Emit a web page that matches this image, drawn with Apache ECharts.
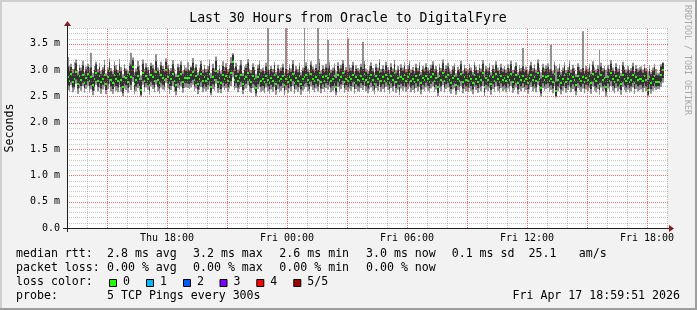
<!DOCTYPE html>
<html><head><meta charset="utf-8">
<script src="https://cdn.jsdelivr.net/npm/echarts@6/dist/echarts.min.js"></script>
<style>html,body{margin:0;padding:0;background:#f2f2f2}#c{width:697px;height:310px}</style>
</head><body><div id="c"></div>
<script>
// ---------------- data ----------------
const chartTitle = 'Last 30 Hours from Oracle to DigitalFyre';
const yAxisName = 'Seconds';
const spanHours = 30;            // Thu 13:00 .. Fri 19:00
const stepHours = 5 / 60;        // one sample every 300 s
const xTickHours = [5, 11, 17, 23, 29];
const xTickLabels = ['Thu 18:00', 'Fri 00:00', 'Fri 06:00', 'Fri 12:00', 'Fri 18:00'];
const xMajorGridHours = [2, 5, 8, 11, 14, 17, 20, 23, 26, 29];
const yMajorValues = [0.5, 1.0, 1.5, 2.0, 2.5, 3.0, 3.5];
const yMax = 3.8;
const lossLabels = ['0', '1', '2', '3', '4', '5/5'];
const lossColors = ['#26ff00', '#00b8ff', '#0059ff', '#7e00ff', '#ff0000', '#a10000'];

// RTT of the 5 pings per step, in ms (sorted: min, 2nd, median, 4th, max)
const pingMed = [
2.86,2.80,2.92,2.78,2.84,2.96,2.74,2.88,2.82,2.90,2.76,2.85,
2.93,2.79,2.87,2.71,2.83,2.95,2.80,2.89,2.77,2.84,2.91,2.73,
2.86,2.98,2.81,2.76,2.90,2.84,2.79,2.93,2.82,2.68,2.87,2.85,
2.78,2.92,2.86,3.05,2.74,2.81,2.89,2.83,2.62,2.95,2.80,2.88,
2.84,2.72,2.91,2.86,2.79,2.97,2.82,2.76,2.90,2.85,2.81,3.01,
2.87,2.75,2.83,2.93,2.80,2.71,2.89,2.84,2.92,2.78,2.85,2.85,
2.85,2.85,2.90,2.96,2.81,2.88,2.74,2.83,2.92,2.79,2.86,2.80,
2.84,2.93,2.67,2.87,2.81,2.99,2.78,2.85,2.76,2.90,2.83,2.88,
2.80,2.86,2.94,3.15,2.82,2.89,2.79,2.85,2.91,2.73,2.84,2.87,
2.95,2.81,2.78,2.88,2.84,2.66,2.86,2.92,2.80,2.83,2.77,2.89,
2.82,2.76,2.85,2.80,2.91,2.74,2.86,2.79,2.83,2.88,2.72,2.84,
2.78,2.87,2.81,2.93,2.76,2.85,2.80,2.89,2.74,2.83,2.86,2.90,
2.81,2.75,2.92,2.84,2.79,2.87,2.82,2.95,2.77,2.86,2.80,2.88,
2.85,2.92,2.79,2.83,2.88,2.68,2.90,2.81,2.86,2.94,2.78,2.84,
2.80,2.87,2.83,2.91,2.76,2.86,2.82,2.79,2.89,2.84,2.93,2.81,
2.77,2.85,2.90,2.82,2.74,2.88,2.83,2.96,2.80,2.86,2.79,2.91,
2.84,2.76,2.89,2.81,2.94,2.78,2.85,2.69,2.87,2.83,2.90,2.80,
2.86,2.93,2.79,2.84,2.77,2.88,2.82,2.91,2.75,2.85,2.81,2.89,
2.83,2.78,2.87,2.92,2.80,2.85,2.67,2.88,2.82,2.95,2.79,2.86,
2.90,2.81,2.76,2.85,2.89,2.72,2.84,2.80,2.93,2.77,2.86,2.82,
2.79,2.88,2.83,2.75,2.91,2.84,2.78,2.87,2.81,2.94,2.68,2.85,
2.82,2.89,2.74,2.86,2.80,2.92,2.83,2.77,2.88,2.81,2.85,2.79,
2.87,2.81,2.93,2.78,2.84,2.90,2.75,2.86,2.82,2.89,2.80,2.84,
2.76,2.85,2.91,2.82,2.87,2.79,2.95,2.83,2.66,2.88,2.81,2.86,
2.89,2.80,2.84,2.77,2.92,2.60,2.81,2.88,2.75,2.83,2.90,2.78,
2.84,2.93,2.79,2.86,2.82,2.71,2.89,2.84,2.80,2.87,2.77,2.85,
2.81,2.88,2.76,2.92,2.83,2.79,2.86,2.74,2.90,2.82,2.85,2.68,
2.87,2.80,2.94,2.83,2.77,2.89,2.81,2.86,2.73,2.91,2.84,2.79,
2.85,2.78,2.82,2.90,2.76,2.86,2.81,2.84,2.84,2.79,2.88,2.82,
2.62,2.86,2.76,2.83,2.89,2.78,2.78,2.78,2.90,3.00];
const pingLo = [
2.71,2.69,2.77,2.67,2.68,2.82,2.65,2.74,2.70,2.76,2.66,2.72,
2.79,2.67,2.71,2.61,2.69,2.80,2.68,2.75,2.65,2.72,2.77,2.62,
2.73,2.83,2.69,2.64,2.76,2.70,2.67,2.79,2.68,2.57,2.74,2.71,
2.66,2.77,2.72,2.87,2.63,2.69,2.74,2.70,2.53,2.80,2.68,2.75,
2.71,2.61,2.77,2.72,2.67,2.81,2.68,2.65,2.76,2.72,2.69,2.85,
2.74,2.64,2.70,2.79,2.68,2.60,2.75,2.71,2.78,2.66,2.76,2.75,
2.74,2.73,2.76,2.81,2.69,2.74,2.63,2.70,2.77,2.67,2.73,2.68,
2.72,2.79,2.57,2.73,2.69,2.83,2.66,2.72,2.64,2.76,2.70,2.74,
2.68,2.73,2.79,2.97,2.70,2.75,2.67,2.72,2.77,2.62,2.71,2.74,
2.80,2.69,2.66,2.74,2.71,2.56,2.73,2.78,2.68,2.70,2.65,2.75,
2.69,2.64,2.72,2.68,2.77,2.62,2.73,2.67,2.70,2.75,2.61,2.71,
2.66,2.74,2.69,2.79,2.64,2.72,2.68,2.76,2.63,2.70,2.73,2.76,
2.69,2.64,2.78,2.71,2.67,2.74,2.69,2.81,2.65,2.73,2.68,2.75,
2.72,2.78,2.67,2.70,2.75,2.58,2.77,2.69,2.73,2.80,2.66,2.71,
2.68,2.74,2.70,2.77,2.64,2.73,2.69,2.67,2.75,2.71,2.79,2.69,
2.65,2.72,2.76,2.70,2.63,2.75,2.70,2.81,2.68,2.73,2.67,2.77,
2.71,2.64,2.75,2.69,2.79,2.66,2.72,2.59,2.74,2.70,2.76,2.68,
2.73,2.79,2.67,2.71,2.65,2.75,2.69,2.77,2.63,2.72,2.69,2.76,
2.70,2.66,2.74,2.78,2.68,2.72,2.57,2.75,2.69,2.80,2.67,2.73,
2.76,2.69,2.64,2.72,2.75,2.61,2.71,2.68,2.79,2.65,2.73,2.69,
2.67,2.75,2.70,2.63,2.77,2.71,2.66,2.74,2.69,2.79,2.58,2.72,
2.69,2.75,2.62,2.73,2.68,2.78,2.70,2.65,2.75,2.69,2.72,2.67,
2.74,2.69,2.79,2.66,2.71,2.76,2.63,2.73,2.69,2.75,2.68,2.71,
2.64,2.72,2.77,2.69,2.74,2.67,2.80,2.70,2.56,2.75,2.69,2.73,
2.75,2.68,2.71,2.65,2.78,2.51,2.69,2.75,2.63,2.70,2.76,2.66,
2.71,2.79,2.67,2.73,2.69,2.60,2.75,2.71,2.68,2.74,2.65,2.72,
2.69,2.75,2.64,2.78,2.70,2.67,2.73,2.62,2.76,2.69,2.72,2.58,
2.74,2.68,2.79,2.70,2.65,2.75,2.69,2.73,2.62,2.77,2.71,2.67,
2.72,2.66,2.69,2.76,2.64,2.73,2.69,2.71,2.72,2.67,2.75,2.69,
2.53,2.73,2.64,2.70,2.75,2.69,2.70,2.69,2.77,2.85];
const pingHi = [
3.07,2.98,3.06,2.94,3.02,3.13,2.91,3.04,2.99,3.09,2.90,3.01,
3.07,2.95,3.05,2.87,3.00,3.11,2.96,3.06,2.92,3.01,3.09,2.89,
3.00,3.15,2.98,2.92,3.08,3.01,2.95,3.11,2.98,2.85,3.04,2.99,
2.93,3.08,3.10,3.19,2.90,2.97,3.07,3.00,2.81,3.12,2.96,3.05,
3.00,2.89,3.08,3.03,2.95,3.17,2.99,2.92,3.09,3.02,2.97,3.16,
3.03,2.92,2.98,3.11,2.96,2.87,3.05,3.00,3.10,2.93,3.01,2.99,
3.01,2.98,3.05,3.14,2.98,3.05,2.90,2.99,3.11,2.95,3.03,2.96,
3.01,3.11,2.85,3.04,2.97,3.18,2.94,3.02,2.92,3.08,2.99,3.05,
2.96,3.03,3.13,3.29,2.98,3.07,2.95,3.01,3.10,2.89,3.00,3.04,
3.14,2.97,2.94,3.06,3.00,2.84,3.03,3.11,2.96,2.99,2.93,3.07,
3.01,2.92,3.02,2.96,3.09,2.91,3.03,2.95,2.99,3.05,2.89,3.02,
2.94,3.04,2.97,3.11,2.92,3.01,2.96,3.07,2.90,2.99,3.04,3.08,
2.97,2.91,3.10,3.01,2.95,3.04,3.00,3.13,2.93,3.02,2.96,3.05,
3.03,3.09,2.95,2.99,3.05,2.85,3.08,2.97,3.03,3.12,2.94,3.00,
2.97,3.03,2.99,3.09,2.92,3.02,2.98,2.95,3.06,3.02,3.11,2.97,
2.93,3.01,3.08,2.98,2.90,3.05,2.99,3.14,2.96,3.02,2.95,3.09,
3.00,2.92,3.06,2.97,3.12,2.94,3.01,2.86,3.04,2.99,3.08,2.96,
3.02,3.11,2.95,3.00,2.93,3.05,2.98,3.09,2.91,3.01,2.97,3.06,
2.99,2.94,3.03,3.10,2.96,3.01,2.85,3.05,2.98,3.13,2.95,3.02,
3.07,2.97,2.92,3.01,3.06,2.88,3.00,2.96,3.11,2.93,3.03,2.98,
2.95,3.04,2.99,2.91,3.09,3.00,2.94,3.04,2.97,3.12,2.86,3.01,
2.98,3.06,2.90,3.02,2.96,3.10,2.99,2.93,3.05,2.97,3.01,2.95,
3.04,2.97,3.11,2.94,3.00,3.08,2.91,3.02,2.98,3.07,2.96,3.00,
2.92,3.01,3.09,2.98,3.04,2.95,3.13,2.99,2.84,3.05,2.97,3.02,
3.06,2.96,3.01,2.93,3.10,2.79,2.97,3.05,2.91,2.99,3.08,2.94,
3.00,3.11,2.95,3.03,2.98,2.87,3.06,3.00,2.96,3.04,2.93,3.01,
2.97,3.05,2.92,3.10,2.99,2.95,3.02,2.91,3.07,2.98,3.01,2.85,
3.03,2.96,3.12,2.99,2.93,3.06,2.97,3.02,2.89,3.09,3.00,2.95,
3.01,2.94,2.98,3.07,2.92,3.02,2.97,3.00,3.01,2.95,3.04,2.98,
2.81,3.02,2.92,2.99,3.06,2.91,2.90,2.91,3.07,3.13];
const pingMin = [
2.62,2.60,2.71,2.58,2.63,2.74,2.55,2.66,2.61,2.70,2.57,2.64,
2.70,2.57,2.63,2.52,2.61,2.72,2.60,2.67,2.55,2.63,2.69,2.54,
2.64,2.73,2.60,2.55,2.68,2.61,2.58,2.71,2.59,2.51,2.65,2.62,
2.57,2.68,2.62,2.78,2.54,2.60,2.66,2.61,2.50,2.72,2.59,2.67,
2.62,2.53,2.69,2.64,2.58,2.72,2.60,2.55,2.67,2.63,2.61,2.76,
2.65,2.55,2.62,2.70,2.59,2.52,2.66,2.63,2.69,2.57,2.66,2.67,
2.66,2.64,2.67,2.72,2.60,2.65,2.54,2.62,2.68,2.58,2.64,2.60,
2.63,2.70,2.52,2.64,2.61,2.74,2.57,2.63,2.56,2.67,2.62,2.66,
2.59,2.65,2.70,2.86,2.62,2.66,2.58,2.64,2.68,2.54,2.63,2.65,
2.71,2.60,2.57,2.66,2.62,2.50,2.64,2.69,2.59,2.61,2.56,2.67,
2.60,2.55,2.63,2.59,2.68,2.53,2.64,2.58,2.61,2.66,2.52,2.62,
2.57,2.65,2.60,2.70,2.55,2.63,2.59,2.67,2.53,2.61,2.64,2.68,
2.60,2.55,2.69,2.62,2.58,2.65,2.60,2.72,2.56,2.64,2.59,2.66,
2.63,2.69,2.58,2.61,2.66,2.52,2.68,2.60,2.64,2.71,2.57,2.62,
2.59,2.65,2.61,2.68,2.55,2.64,2.60,2.58,2.66,2.62,2.70,2.60,
2.56,2.63,2.67,2.61,2.54,2.66,2.61,2.72,2.59,2.64,2.58,2.68,
2.62,2.55,2.66,2.60,2.70,2.57,2.63,2.52,2.65,2.61,2.67,2.59,
2.64,2.70,2.58,2.62,2.56,2.66,2.60,2.68,2.54,2.63,2.60,2.67,
2.61,2.57,2.65,2.69,2.59,2.63,2.51,2.66,2.60,2.71,2.58,2.64,
2.67,2.60,2.55,2.63,2.66,2.53,2.62,2.59,2.70,2.56,2.64,2.60,
2.58,2.66,2.61,2.54,2.68,2.62,2.57,2.65,2.60,2.70,2.51,2.63,
2.60,2.66,2.53,2.64,2.59,2.69,2.61,2.56,2.66,2.60,2.63,2.58,
2.65,2.60,2.70,2.57,2.62,2.67,2.54,2.64,2.60,2.66,2.59,2.62,
2.55,2.63,2.68,2.60,2.65,2.58,2.71,2.61,2.50,2.66,2.60,2.64,
2.66,2.59,2.62,2.56,2.69,2.48,2.60,2.66,2.54,2.61,2.67,2.57,
2.62,2.70,2.58,2.64,2.60,2.52,2.66,2.62,2.59,2.65,2.56,2.63,
2.60,2.66,2.55,2.69,2.61,2.58,2.64,2.53,2.67,2.60,2.63,2.50,
2.65,2.59,2.70,2.61,2.56,2.66,2.60,2.64,2.53,2.68,2.62,2.58,
2.63,2.57,2.60,2.67,2.55,2.64,2.60,2.62,2.63,2.58,2.66,2.60,
2.50,2.64,2.55,2.61,2.66,2.62,2.64,2.63,2.68,2.76];
const pingMax = [
3.25,3.08,3.12,3.02,3.15,3.20,2.98,3.10,3.05,3.18,2.96,3.07,
3.12,3.05,3.33,2.95,3.08,3.16,3.02,3.14,2.99,3.06,3.19,2.94,
3.05,3.22,3.04,2.98,3.17,3.09,3.00,3.21,3.06,2.92,3.11,3.03,
2.99,3.15,3.33,3.24,2.96,3.03,3.18,3.08,2.90,3.20,3.02,3.13,
3.06,2.95,3.14,3.10,3.01,3.30,3.05,2.97,3.16,3.08,3.02,3.22,
3.10,2.98,3.04,3.19,3.03,2.93,3.12,3.06,3.17,2.99,3.09,3.05,
3.15,2.99,3.07,3.23,3.04,3.11,2.96,3.05,3.18,3.01,3.10,3.02,
3.08,3.20,2.95,3.12,3.03,3.26,3.00,3.09,2.98,3.17,3.06,3.13,
3.02,3.10,3.25,3.32,3.04,3.14,3.01,3.08,3.19,2.95,3.07,3.11,
3.21,3.03,3.00,3.13,3.06,2.93,3.10,3.18,3.02,3.05,2.99,3.14,
3.80,2.98,3.08,3.02,3.16,2.97,3.10,3.01,3.05,3.12,2.95,3.80,
3.00,3.11,3.03,3.19,2.98,3.08,3.02,3.14,2.96,3.05,3.80,3.15,
3.03,2.97,3.17,3.07,3.01,3.11,3.80,3.21,2.99,3.09,3.02,3.12,
3.57,3.16,3.01,3.05,3.13,2.98,3.15,3.03,3.10,3.19,3.00,3.06,
3.60,3.10,3.05,3.16,2.98,3.09,3.04,3.01,3.12,3.54,3.18,3.03,
2.99,3.08,3.15,3.04,2.96,3.12,3.05,3.21,3.02,3.09,3.01,3.16,
3.06,2.98,3.13,3.03,3.19,3.00,3.08,2.94,3.11,3.05,3.15,3.02,
3.09,3.18,3.01,3.06,2.99,3.12,3.04,3.16,2.97,3.08,3.03,3.13,
3.05,3.00,3.10,3.17,3.02,3.08,2.96,3.12,3.04,3.20,3.01,3.09,
3.14,3.03,2.98,3.08,3.13,2.94,3.06,3.02,3.18,2.99,3.10,3.04,
3.01,3.12,3.05,2.97,3.16,3.07,3.00,3.11,3.03,3.19,2.98,3.08,
3.04,3.13,2.96,3.09,3.02,3.17,3.05,2.99,3.12,3.03,3.08,3.01,
3.11,3.03,3.18,3.00,3.06,3.15,2.97,3.09,3.04,3.42,3.02,3.07,
2.98,3.08,3.16,3.04,3.11,3.01,3.20,3.05,2.96,3.12,3.03,3.09,
3.13,3.02,3.48,2.99,3.17,3.08,3.03,3.12,2.97,3.05,3.15,3.00,
3.06,3.18,3.01,3.10,3.04,2.93,3.13,3.07,3.02,3.74,2.99,3.08,
3.03,3.12,2.98,3.17,3.05,3.01,3.09,3.38,3.14,3.04,3.08,3.00,
3.10,3.02,3.19,3.05,2.99,3.13,3.03,3.09,2.95,3.16,3.06,3.01,
3.08,3.00,3.04,3.14,2.98,3.09,3.03,3.06,3.07,3.01,3.11,3.04,
2.98,3.09,2.97,3.05,3.12,3.02,2.95,2.96,3.11,3.15];

// legend texts
const legendRows = [
  ['median rtt:', '2.8 ms avg', '3.2 ms max', '2.6 ms min', '3.0 ms now', '0.1 ms sd', '25.1', 'am/s'],
  ['packet loss:', '0.00 % avg', '0.00 % max', '0.00 % min', '0.00 % now'],
  ['loss color:'],
  ['probe:', '5 TCP Pings every 300s']
];
const stampText = 'Fri Apr 17 18:59:51 2026';
const watermark = 'RRDTOOL / TOBI OETIKER';

// ---------------- style ----------------
const FONT = "'DejaVu Sans Mono', monospace";
const GRID = 'rgba(143,143,143,0.5)';
const MGRID = 'rgba(222,79,79,0.8)';
const AXIS = '#202020';
const ARROW = '#801f1f';
const SMOKE_OUT = '#919191';
const SMOKE_IN = '#323232';

const seriesData = pingMed.map((m, i) =>
  [i * stepHours, (i + 1) * stepHours, pingMin[i], pingLo[i], m, pingHi[i], pingMax[i]]);

function renderSmoke(params, api) {
  const t0 = api.value(0), t1 = api.value(1);
  const a = api.coord([t0, api.value(6)]), b = api.coord([t1, api.value(2)]);
  const c = api.coord([t0, api.value(5)]), d = api.coord([t1, api.value(3)]);
  const m = api.coord([t0, api.value(4)]);
  const x0 = Math.round(a[0]), x1 = Math.round(b[0]);
  return {
    type: 'group',
    children: [
      { type: 'rect', shape: { x: x0, y: a[1], width: x1 - x0, height: b[1] - a[1] }, style: { fill: SMOKE_OUT } },
      { type: 'rect', shape: { x: x0, y: c[1], width: x1 - x0, height: d[1] - c[1] }, style: { fill: SMOKE_IN } },
      { type: 'rect', shape: { x: x0, y: Math.round(m[1]) - 1, width: x1 - x0, height: 2 }, style: { fill: lossColors[0] } }
    ]
  };
}

// grid lines: [kind, value]; kind 0 minor vertical, 1 minor horizontal, 2 major vertical, 3 major horizontal
const gridItems = [];
for (let h = 1; h <= spanHours; h++) if (xMajorGridHours.indexOf(h) < 0) gridItems.push([0, h]);
for (let k = 1; k <= 38; k++) if (k % 5 !== 0) gridItems.push([1, k / 10]);
xMajorGridHours.forEach(h => gridItems.push([2, h]));
yMajorValues.forEach(v => gridItems.push([3, v]));

function renderGrid(params, api) {
  const kind = api.value(0), v = api.value(1);
  const st = { stroke: kind >= 2 ? MGRID : GRID, lineWidth: 1, lineDash: [1, 1] };
  if (kind % 2 === 0) {
    const p = api.coord([v, yMax]), q = api.coord([v, 0]);
    const x = Math.round(p[0]) + 0.5;
    return { type: 'line', shape: { x1: x, y1: q[1], x2: x, y2: p[1] }, style: st };
  }
  const p = api.coord([0, v]), q = api.coord([spanHours, v]);
  const y = Math.round(p[1]) + 0.5;
  return { type: 'line', shape: { x1: p[0], y1: y, x2: q[0] + 1, y2: y }, style: st };
}

// legend graphics
const legendX = [16, 107, 193, 279.3, 366, 451.7, 528.5, 578.7];
const legendY = [254.3, 268.3, 282.3, 296.3];
const gfx = [];
legendRows.forEach((row, r) => row.forEach((t, k) => gfx.push({
  type: 'text', x: legendX[k], y: legendY[r], z: 10,
  style: { text: t, font: '11.6px ' + FONT, fill: '#000', textVerticalAlign: 'middle' }
})));
const swatchX = [109, 146, 183, 219.5, 256.3, 293.3];
lossLabels.forEach((t, k) => {
  gfx.push({ type: 'rect', z: 10, shape: { x: swatchX[k] + 0.5, y: 279.5, width: 7, height: 7 },
    style: { fill: lossColors[k], stroke: '#000', lineWidth: 1 } });
  gfx.push({ type: 'text', x: swatchX[k] + 14, y: legendY[2], z: 10,
    style: { text: t, font: '11.6px ' + FONT, fill: '#000', textVerticalAlign: 'middle' } });
});
gfx.push({ type: 'text', x: 680, y: legendY[3], z: 10,
  style: { text: stampText, font: '11.6px ' + FONT, fill: '#000', textAlign: 'right', textVerticalAlign: 'middle' } });
gfx.push({ type: 'text', x: 348, y: 19, z: 10,
  style: { text: chartTitle, font: '13.2px ' + FONT, fill: '#000', textAlign: 'center', textVerticalAlign: 'middle' } });
gfx.push({ type: 'text', x: 10, y: 128, rotation: Math.PI / 2, z: 10,
  style: { text: yAxisName, font: '11.6px ' + FONT, fill: '#000', textAlign: 'center', textVerticalAlign: 'middle' } });
gfx.push({ type: 'text', x: 687, y: 60, rotation: -Math.PI / 2, z: 10,
  style: { text: watermark, font: '8.3px ' + FONT, fill: '#a8a8a8', textAlign: 'center', textVerticalAlign: 'middle' } });
// frame shading
gfx.push({ type: 'rect', z: 1, shape: { x: 0, y: 0, width: 697, height: 2 }, style: { fill: '#cfcfcf' } });
gfx.push({ type: 'rect', z: 1, shape: { x: 0, y: 0, width: 2, height: 310 }, style: { fill: '#cfcfcf' } });
gfx.push({ type: 'rect', z: 1, shape: { x: 695, y: 0, width: 2, height: 310 }, style: { fill: '#9e9e9e' } });
gfx.push({ type: 'rect', z: 1, shape: { x: 0, y: 308, width: 697, height: 2 }, style: { fill: '#9e9e9e' } });
// axis lines with rrdtool-style overhang and arrows
gfx.push({ type: 'line', z: 10, shape: { x1: 63, y1: 228.5, x2: 670, y2: 228.5 }, style: { stroke: AXIS, lineWidth: 1 } });
gfx.push({ type: 'line', z: 10, shape: { x1: 67.5, y1: 232, x2: 67.5, y2: 25 }, style: { stroke: AXIS, lineWidth: 1 } });
gfx.push({ type: 'polygon', z: 11, shape: { points: [[669, 225], [669, 232], [674, 228.5]] }, style: { fill: ARROW } });
gfx.push({ type: 'polygon', z: 11, shape: { points: [[64, 26], [71, 26], [67.5, 21]] }, style: { fill: ARROW } });

const option = {
  animation: false,
  backgroundColor: '#f2f2f2',
  grid: { left: 67, top: 28, width: 600, height: 200, show: true, backgroundColor: '#ffffff', borderWidth: 0, outerBoundsMode: 'none', containLabel: false },
  xAxis: {
    type: 'value', position: 'bottom', min: 0, max: spanHours,
    axisLine: { show: false },
    axisTick: { show: false, customValues: xTickHours },
    splitLine: { show: false },
    axisLabel: { show: true, customValues: xTickHours, margin: 5,
      formatter: v => xTickLabels[xTickHours.indexOf(Math.round(v))] || '',
      fontFamily: FONT, fontSize: 10, color: '#000' }
  },
  yAxis: {
    type: 'value', position: 'left', min: 0, max: yMax, interval: 0.5,
    axisLine: { show: false },
    axisTick: { show: false },
    splitLine: { show: false },
    axisLabel: { show: true, showMaxLabel: false, margin: 7,
      formatter: v => v === 0 ? '0.0' : (Math.abs(v * 2 - Math.round(v * 2)) < 1e-6 ? v.toFixed(1) + ' m' : ''),
      fontFamily: FONT, fontSize: 10, color: '#000' }
  },
  graphic: { elements: gfx },
  series: [
    { type: 'custom', name: 'smoke', clip: true, silent: true, z: 2,
      renderItem: renderSmoke, data: seriesData,
      encode: { x: [0, 1], y: [2, 3, 4, 5, 6] } },
    { type: 'custom', name: 'grid', clip: false, silent: true, z: 3,
      renderItem: renderGrid, data: gridItems }
  ]
};
const chart = echarts.init(document.getElementById('c'));
chart.setOption(option);
</script></body></html>
